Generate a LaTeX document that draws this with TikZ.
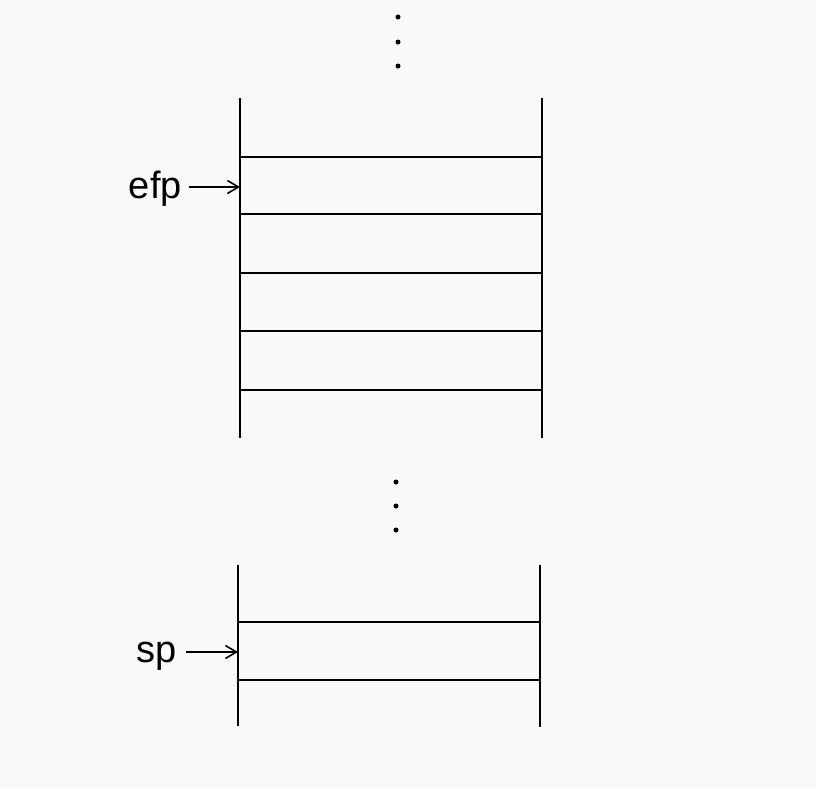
\documentclass[tikz,border=0pt]{standalone}
\usepackage{fontspec}
\setmainfont{Liberation Sans}
\usetikzlibrary{arrows.meta}
\begin{document}
\begin{tikzpicture}[x=1pt,y=-1pt,
  wall/.style={line width=2pt},
  rung/.style={line width=1.7pt},
  ptr/.style={line width=1.6pt,-{Straight Barb[length=11pt,width=13pt,line width=1.6pt]}},
  lbl/.style={font=\fontsize{38}{40}\selectfont,inner sep=0pt},
  dot/.style={circle,fill=black,inner sep=0pt,minimum size=5pt}]
\fill[gray!5] (0,0) rectangle (816,788);
\useasboundingbox (0,0) rectangle (816,788);
% top dots
\node[dot] (d1) at (398,17) {};
\node[dot] (d2) at (398,42) {};
\node[dot] (d3) at (398,66) {};
% upper stack
\coordinate (tl1) at (240,98);  \coordinate (tl2) at (240,438);
\coordinate (tr1) at (542,98);  \coordinate (tr2) at (542,438);
\draw[wall] (tl1) -- (tl2);
\draw[wall] (tr1) -- (tr2);
\foreach \y/\n in {157/a,214/b,273/c,331/d,390/e}{
  \coordinate (u\n l) at (240,\y); \coordinate (u\n r) at (542,\y);
  \draw[rung] (u\n l) -- (u\n r);
}
% middle dots
\node[dot] (m1) at (396,482) {};
\node[dot] (m2) at (396,506) {};
\node[dot] (m3) at (396,530) {};
% lower stack
\coordinate (bl1) at (238,565); \coordinate (bl2) at (238,726);
\coordinate (br1) at (540,565); \coordinate (br2) at (540,727);
\draw[wall] (bl1) -- (bl2);
\draw[wall] (br1) -- (br2);
\foreach \y/\n in {622/a,680/b}{
  \coordinate (l\n l) at (238,\y); \coordinate (l\n r) at (540,\y);
  \draw[rung] (l\n l) -- (l\n r);
}
% labels and pointers
\node[lbl,anchor=east] (efp) at (182,189) {efp};
\coordinate (efpt) at (240,187);
\coordinate (efps) at (189,187);
\draw[ptr] (efps) -- (efpt);
\node[lbl,anchor=east] (sp) at (177,656) {sp};
\coordinate (spt) at (238,652);
\coordinate (sps) at (186,652);
\draw[ptr] (sps) -- (spt);
\end{tikzpicture}
\end{document}
